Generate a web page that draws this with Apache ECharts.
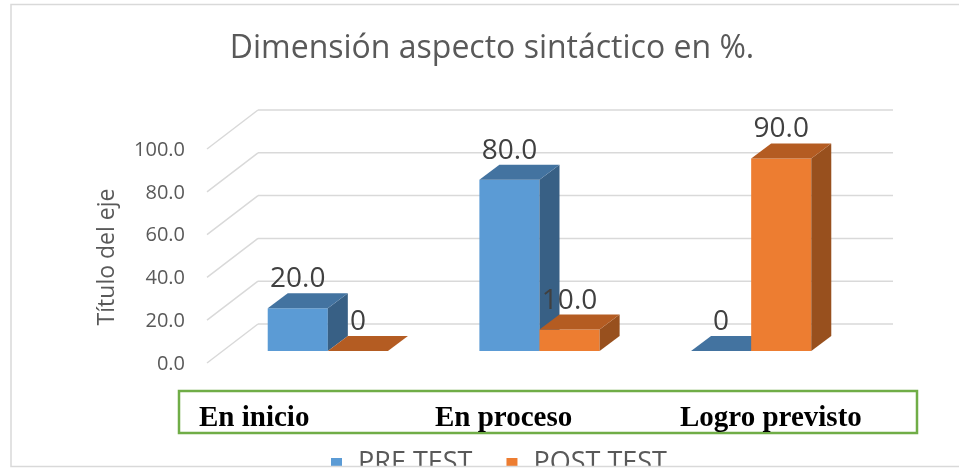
<!DOCTYPE html>
<html>
<head>
<meta charset="utf-8">
<script src="https://cdn.jsdelivr.net/npm/echarts@6/dist/echarts.min.js"></script>
<style>html,body{margin:0;padding:0;background:#fff;}#c{width:959px;height:468px;}</style>
</head>
<body>
<div id="c"></div>
<script>
// ---- data ----
const categories = ['En inicio', 'En proceso', 'Logro previsto'];
const preTest = [20.0, 80.0, 0];
const postTest = [0, 10.0, 90.0];
const seriesNames = ['PRE TEST', 'POST TEST'];
const yTicks = [0, 20, 40, 60, 80, 100];
const yTickLabels = ['0.0', '20.0', '40.0', '60.0', '80.0', '100.0'];
const chartTitle = 'Dimensión aspecto sintáctico en %.';
const axisTitle = 'Título del eje';

// ---- layout / style constants ----
const BACK = { dx: 36, dy: -27 };   // back wall offset from bar front plane
const FRONT = { dx: -15, dy: 12 };  // front edge offset from bar front plane
const DEPTH = { dx: 20, dy: -15 };  // bar depth
const BAR_FRAC = 0.284;
const palette = [
  { front: '#5B9BD5', top: '#4373A0', side: '#386085' },
  { front: '#ED7D31', top: '#B45C22', side: '#98501E' }
];
const catLabelX = [199, 435, 680];

function fmt(v) { return v === 0 ? '0' : v.toFixed(1); }

function barSeries(k, values) {
  const c = palette[k];
  return {
    type: 'custom',
    name: seriesNames[k],
    clip: false,
    z: 3 + k,
    itemStyle: { color: c.front },
    encode: { x: 0, y: 1 },
    data: values.map((v, i) => [i, v]),
    renderItem: function (params, api) {
      const i = api.value(0), v = api.value(1);
      const base = api.coord([i, 0]);
      const topP = api.coord([i, v]);
      const band = api.size([1, 0])[0];
      const w = band * BAR_FRAC;
      const x = base[0] + (k === 0 ? -w : 0);
      const yb = base[1], yt = topP[1];
      const ch = [];
      if (yb - yt > 0.5) {
        ch.push({ type: 'rect', shape: { x: x, y: yt, width: w, height: yb - yt }, style: { fill: c.front } });
        ch.push({ type: 'polygon', shape: { points: [[x + w, yt], [x + w + DEPTH.dx, yt + DEPTH.dy], [x + w + DEPTH.dx, yb + DEPTH.dy], [x + w, yb]] }, style: { fill: c.side } });
      }
      ch.push({ type: 'polygon', shape: { points: [[x, yt], [x + w, yt], [x + w + DEPTH.dx, yt + DEPTH.dy], [x + DEPTH.dx, yt + DEPTH.dy]] }, style: { fill: c.top } });
      ch.push({ type: 'text', style: { text: fmt(v), x: x + w / 2, y: yt - 29, align: 'center', verticalAlign: 'middle', font: '28px "Open Sans"', fill: '#404040' } });
      return { type: 'group', children: ch };
    }
  };
}

const chart = echarts.init(document.getElementById('c'), null, { renderer: 'canvas' });
chart.setOption({
  animation: false,
  color: [palette[0].front, palette[1].front],
  grid: { left: 222, top: 137, width: 635, height: 214 },
  xAxis: { type: 'category', data: categories, axisLine: { show: false }, axisTick: { show: false }, axisLabel: { show: false }, splitLine: { show: false } },
  yAxis: { type: 'value', min: 0, max: 100, interval: 20, axisLine: { show: false }, axisTick: { show: false }, axisLabel: { show: false }, splitLine: { show: false } },
  legend: {
    data: seriesNames, left: 326, top: 441, icon: 'rect', itemWidth: 11, itemHeight: 11, itemGap: 34,
    textStyle: { fontFamily: 'Open Sans', fontSize: 27, lineHeight: 27, color: '#595959', padding: [8, 0, 0, 11] }
  },
  graphic: [
    { type: 'rect', z: 100, shape: { x: 0, y: 466, width: 959, height: 2 }, style: { fill: '#fff' } },
    { type: 'polyline', z: 101, shape: { points: [[959, 4.5], [11, 4.5], [11, 466.5], [959, 466.5]] }, style: { stroke: '#D9D9D9', lineWidth: 1.5, fill: null } },
    { type: 'text', z: 10, style: { text: chartTitle, x: 492, y: 49, align: 'center', verticalAlign: 'middle', font: '32px "Open Sans"', fill: '#595959' } },
    { type: 'text', z: 10, rotation: Math.PI / 2, x: 107, y: 257, style: { text: axisTitle, x: 0, y: 0, align: 'center', verticalAlign: 'middle', font: '23px "Open Sans"', fill: '#595959' } },
    { type: 'rect', z: 10, shape: { x: 179, y: 391, width: 738, height: 42 }, style: { fill: null, stroke: '#70AD47', lineWidth: 2.5 } }
  ].concat(categories.map((c, i) => ({
    type: 'text', z: 11, style: { text: c, x: catLabelX[i], y: 419, align: 'left', verticalAlign: 'middle', font: 'bold 29px "Liberation Serif"', fill: '#000' }
  }))),
  series: [
    {
      type: 'custom', name: 'walls', silent: true, clip: false, z: 1,
      encode: { x: 0, y: 1 },
      data: yTicks.map(v => [0, v]),
      renderItem: function (params, api) {
        const cs = params.coordSys;
        const y = api.coord([0, api.value(1)])[1];
        const x0 = cs.x, x1 = cs.x + cs.width;
        const ls = { stroke: '#D9D9D9', lineWidth: 1.5 };
        return {
          type: 'group', children: [
            { type: 'line', shape: { x1: x0 + BACK.dx, y1: y + BACK.dy, x2: x1 + BACK.dx, y2: y + BACK.dy }, style: ls },
            { type: 'line', shape: { x1: x0 + FRONT.dx, y1: y + FRONT.dy, x2: x0 + BACK.dx, y2: y + BACK.dy }, style: ls },
            { type: 'text', style: { text: yTickLabels[params.dataIndex], x: x0 + FRONT.dx - 22, y: y + FRONT.dy + 1, align: 'right', verticalAlign: 'middle', font: '20px "Open Sans"', fill: '#595959' } }
          ]
        };
      }
    },
    barSeries(0, preTest),
    barSeries(1, postTest)
  ]
});
</script>
</body>
</html>
